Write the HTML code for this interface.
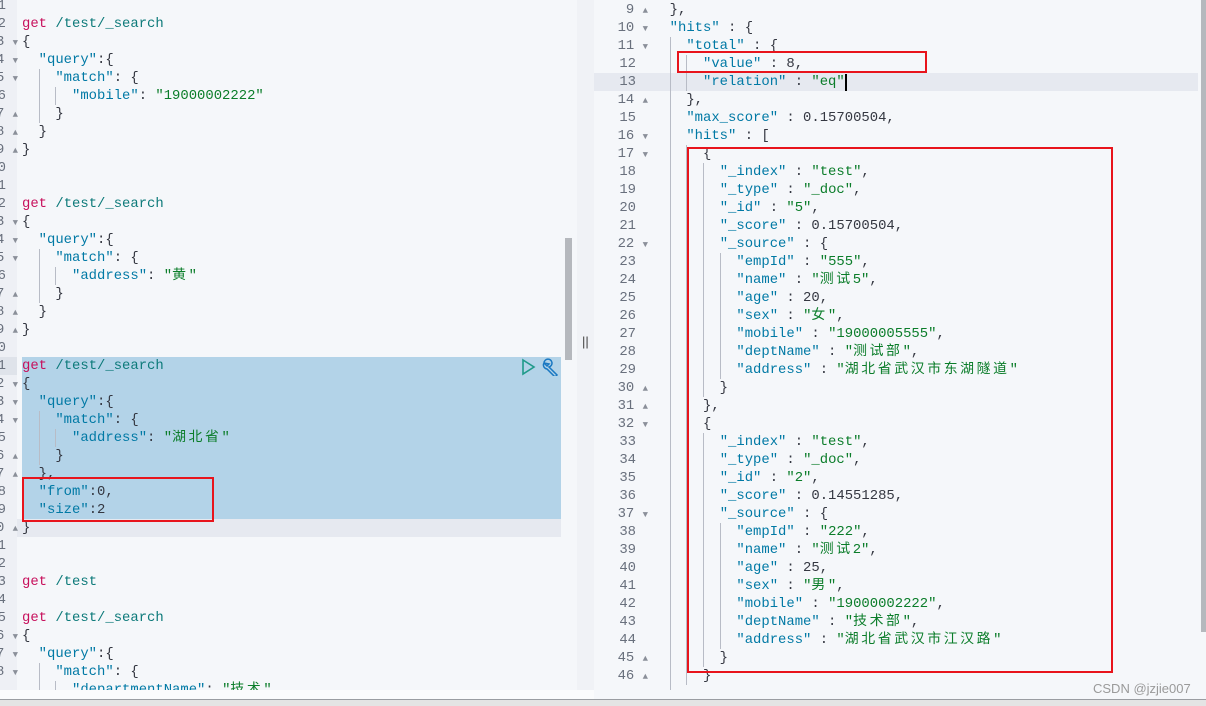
<!DOCTYPE html>
<html><head><meta charset="utf-8"><style>
body{margin:0;width:1206px;height:706px;overflow:hidden;background:#f5f7fa;position:relative;font-family:"Liberation Mono","Noto Sans CJK SC",monospace;font-size:13.9px;}
.a{position:absolute}
.L{position:absolute;height:18px;line-height:18px;white-space:pre;color:#343741}
.k{color:#0079a5}.s{color:#0b7d2a}.g{color:#c7105c}.p{color:#0d7a7a}
.c{letter-spacing:2.6px}
.gn{position:absolute;height:18px;line-height:18px;color:#69707d;white-space:pre;text-align:right}
.ig{position:absolute;width:1px;background:#b8bcc6}
.box{position:absolute;border:2px solid #e8141c;box-sizing:border-box}
.ar{font-size:9px;color:#8a8f99}
</style></head><body>
<!-- left panel -->
<div class="a" style="left:0;top:0;width:17px;height:690px;background:#eef0f5"></div>
<div class="a" style="left:17px;top:0;width:560px;height:690px;background:#f5f7fa"></div>
<div class="a" style="left:0;top:690px;width:594px;height:10px;background:#fafbfc"></div>
<div class="a" style="left:0;top:357px;width:17px;height:18px;background:#dfe3ea"></div>
<div class="a" style="left:22px;top:357px;width:539px;height:162px;background:#b3d3e8"></div>
<div class="a" style="left:17px;top:519px;width:544px;height:18px;background:#e6e9f0"></div>
<div class="a" style="left:565px;top:238px;width:7px;height:122px;background:#b5b8bd"></div>
<!-- left gutter -->
<div class="gn" style="left:-4px;top:-3px;width:10px">1</div>
<div class="gn" style="left:-4px;top:15px;width:10px">2</div>
<div class="gn" style="left:-4px;top:33px;width:22px">3 <span class="ar">▼</span></div>
<div class="gn" style="left:-4px;top:51px;width:22px">4 <span class="ar">▼</span></div>
<div class="gn" style="left:-4px;top:69px;width:22px">5 <span class="ar">▼</span></div>
<div class="gn" style="left:-4px;top:87px;width:10px">6</div>
<div class="gn" style="left:-4px;top:105px;width:22px">7 <span class="ar">▲</span></div>
<div class="gn" style="left:-4px;top:123px;width:22px">8 <span class="ar">▲</span></div>
<div class="gn" style="left:-4px;top:141px;width:22px">9 <span class="ar">▲</span></div>
<div class="gn" style="left:-4px;top:159px;width:10px">0</div>
<div class="gn" style="left:-4px;top:177px;width:10px">1</div>
<div class="gn" style="left:-4px;top:195px;width:10px">2</div>
<div class="gn" style="left:-4px;top:213px;width:22px">3 <span class="ar">▼</span></div>
<div class="gn" style="left:-4px;top:231px;width:22px">4 <span class="ar">▼</span></div>
<div class="gn" style="left:-4px;top:249px;width:22px">5 <span class="ar">▼</span></div>
<div class="gn" style="left:-4px;top:267px;width:10px">6</div>
<div class="gn" style="left:-4px;top:285px;width:22px">7 <span class="ar">▲</span></div>
<div class="gn" style="left:-4px;top:303px;width:22px">8 <span class="ar">▲</span></div>
<div class="gn" style="left:-4px;top:321px;width:22px">9 <span class="ar">▲</span></div>
<div class="gn" style="left:-4px;top:339px;width:10px">0</div>
<div class="gn" style="left:-4px;top:357px;width:10px">1</div>
<div class="gn" style="left:-4px;top:375px;width:22px">2 <span class="ar">▼</span></div>
<div class="gn" style="left:-4px;top:393px;width:22px">3 <span class="ar">▼</span></div>
<div class="gn" style="left:-4px;top:411px;width:22px">4 <span class="ar">▼</span></div>
<div class="gn" style="left:-4px;top:429px;width:10px">5</div>
<div class="gn" style="left:-4px;top:447px;width:22px">6 <span class="ar">▲</span></div>
<div class="gn" style="left:-4px;top:465px;width:22px">7 <span class="ar">▲</span></div>
<div class="gn" style="left:-4px;top:483px;width:10px">8</div>
<div class="gn" style="left:-4px;top:501px;width:10px">9</div>
<div class="gn" style="left:-4px;top:519px;width:22px">0 <span class="ar">▲</span></div>
<div class="gn" style="left:-4px;top:537px;width:10px">1</div>
<div class="gn" style="left:-4px;top:555px;width:10px">2</div>
<div class="gn" style="left:-4px;top:573px;width:10px">3</div>
<div class="gn" style="left:-4px;top:591px;width:10px">4</div>
<div class="gn" style="left:-4px;top:609px;width:10px">5</div>
<div class="gn" style="left:-4px;top:627px;width:22px">6 <span class="ar">▼</span></div>
<div class="gn" style="left:-4px;top:645px;width:22px">7 <span class="ar">▼</span></div>
<div class="gn" style="left:-4px;top:663px;width:22px">8 <span class="ar">▼</span></div>
<!-- left indent guides -->
<div class="ig" style="left:39px;top:69px;height:54px"></div>
<div class="ig" style="left:55px;top:87px;height:18px"></div>
<div class="ig" style="left:39px;top:249px;height:54px"></div>
<div class="ig" style="left:55px;top:267px;height:18px"></div>
<div class="ig" style="left:39px;top:411px;height:54px"></div>
<div class="ig" style="left:55px;top:429px;height:18px"></div>
<div class="ig" style="left:39px;top:663px;height:27px"></div>
<div class="ig" style="left:55px;top:681px;height:9px"></div>
<!-- left code -->
<div class="L" style="left:22px;top:15px"><span class="g">get</span> <span class="p">/test/_search</span></div>
<div class="L" style="left:22px;top:33px">{</div>
<div class="L" style="left:22px;top:51px">  <span class="k">"query"</span>:{</div>
<div class="L" style="left:22px;top:69px">    <span class="k">"match"</span>: {</div>
<div class="L" style="left:22px;top:87px">      <span class="k">"mobile"</span>: <span class="s">"19000002222"</span></div>
<div class="L" style="left:22px;top:105px">    }</div>
<div class="L" style="left:22px;top:123px">  }</div>
<div class="L" style="left:22px;top:141px">}</div>
<div class="L" style="left:22px;top:195px"><span class="g">get</span> <span class="p">/test/_search</span></div>
<div class="L" style="left:22px;top:213px">{</div>
<div class="L" style="left:22px;top:231px">  <span class="k">"query"</span>:{</div>
<div class="L" style="left:22px;top:249px">    <span class="k">"match"</span>: {</div>
<div class="L" style="left:22px;top:267px">      <span class="k">"address"</span>: <span class="s">"<span class="c">黄</span>"</span></div>
<div class="L" style="left:22px;top:285px">    }</div>
<div class="L" style="left:22px;top:303px">  }</div>
<div class="L" style="left:22px;top:321px">}</div>
<div class="L" style="left:22px;top:357px"><span class="g">get</span> <span class="p">/test/_search</span></div>
<div class="L" style="left:22px;top:375px">{</div>
<div class="L" style="left:22px;top:393px">  <span class="k">"query"</span>:{</div>
<div class="L" style="left:22px;top:411px">    <span class="k">"match"</span>: {</div>
<div class="L" style="left:22px;top:429px">      <span class="k">"address"</span>: <span class="s">"<span class="c">湖北省</span>"</span></div>
<div class="L" style="left:22px;top:447px">    }</div>
<div class="L" style="left:22px;top:465px">  },</div>
<div class="L" style="left:22px;top:483px">  <span class="k">"from"</span>:0,</div>
<div class="L" style="left:22px;top:501px">  <span class="k">"size"</span>:2</div>
<div class="L" style="left:22px;top:519px">}</div>
<div class="L" style="left:22px;top:573px"><span class="g">get</span> <span class="p">/test</span></div>
<div class="L" style="left:22px;top:609px"><span class="g">get</span> <span class="p">/test/_search</span></div>
<div class="L" style="left:22px;top:627px">{</div>
<div class="L" style="left:22px;top:645px">  <span class="k">"query"</span>:{</div>
<div class="L" style="left:22px;top:663px">    <span class="k">"match"</span>: {</div>
<div class="L" style="left:22px;top:681px;height:9px;overflow:hidden">      <span class="k">"departmentName"</span>: <span class="s">"<span class="c">技术</span>"</span></div>
<!-- play/wrench icons -->
<svg class="a" style="left:520px;top:358px" width="42" height="18"><path d="M3 2 L14 9 L3 16 Z" fill="none" stroke="#1f9a8a" stroke-width="1.6"/><path d="M24 5 a4 4 0 1 1 5 4 l8 8 l-2 2 l-8 -8 a4 4 0 0 1 -3 -6 l3 3 l2 -2 z" fill="none" stroke="#1a78c2" stroke-width="1.5"/></svg>
<div class="box" style="left:22px;top:477px;width:192px;height:45px"></div>
<!-- divider -->
<div class="a" style="left:577px;top:0;width:17px;height:690px;background:#f0f2f6"></div>
<div class="a" style="left:582px;top:334px;font-family:'Liberation Sans',sans-serif;font-size:13px;color:#444">||</div>
<!-- right panel -->
<div class="a" style="left:594px;top:0;width:612px;height:700px;background:#f5f7fa"></div>
<div class="a" style="left:594px;top:73px;width:604px;height:18px;background:#e6e9f0"></div>
<div class="a" style="left:1201px;top:0;width:5px;height:632px;background:#b5b8bd"></div>
<div class="a" style="left:845px;top:74px;width:2px;height:17px;background:#000"></div>
<!-- right gutter -->
<div class="gn" style="left:594px;top:1px;width:54px">9 <span class="ar">▲</span></div>
<div class="gn" style="left:594px;top:19px;width:54px">10 <span class="ar">▼</span></div>
<div class="gn" style="left:594px;top:37px;width:54px">11 <span class="ar">▼</span></div>
<div class="gn" style="left:594px;top:55px;width:42px">12</div>
<div class="gn" style="left:594px;top:73px;width:42px">13</div>
<div class="gn" style="left:594px;top:91px;width:54px">14 <span class="ar">▲</span></div>
<div class="gn" style="left:594px;top:109px;width:42px">15</div>
<div class="gn" style="left:594px;top:127px;width:54px">16 <span class="ar">▼</span></div>
<div class="gn" style="left:594px;top:145px;width:54px">17 <span class="ar">▼</span></div>
<div class="gn" style="left:594px;top:163px;width:42px">18</div>
<div class="gn" style="left:594px;top:181px;width:42px">19</div>
<div class="gn" style="left:594px;top:199px;width:42px">20</div>
<div class="gn" style="left:594px;top:217px;width:42px">21</div>
<div class="gn" style="left:594px;top:235px;width:54px">22 <span class="ar">▼</span></div>
<div class="gn" style="left:594px;top:253px;width:42px">23</div>
<div class="gn" style="left:594px;top:271px;width:42px">24</div>
<div class="gn" style="left:594px;top:289px;width:42px">25</div>
<div class="gn" style="left:594px;top:307px;width:42px">26</div>
<div class="gn" style="left:594px;top:325px;width:42px">27</div>
<div class="gn" style="left:594px;top:343px;width:42px">28</div>
<div class="gn" style="left:594px;top:361px;width:42px">29</div>
<div class="gn" style="left:594px;top:379px;width:54px">30 <span class="ar">▲</span></div>
<div class="gn" style="left:594px;top:397px;width:54px">31 <span class="ar">▲</span></div>
<div class="gn" style="left:594px;top:415px;width:54px">32 <span class="ar">▼</span></div>
<div class="gn" style="left:594px;top:433px;width:42px">33</div>
<div class="gn" style="left:594px;top:451px;width:42px">34</div>
<div class="gn" style="left:594px;top:469px;width:42px">35</div>
<div class="gn" style="left:594px;top:487px;width:42px">36</div>
<div class="gn" style="left:594px;top:505px;width:54px">37 <span class="ar">▼</span></div>
<div class="gn" style="left:594px;top:523px;width:42px">38</div>
<div class="gn" style="left:594px;top:541px;width:42px">39</div>
<div class="gn" style="left:594px;top:559px;width:42px">40</div>
<div class="gn" style="left:594px;top:577px;width:42px">41</div>
<div class="gn" style="left:594px;top:595px;width:42px">42</div>
<div class="gn" style="left:594px;top:613px;width:42px">43</div>
<div class="gn" style="left:594px;top:631px;width:42px">44</div>
<div class="gn" style="left:594px;top:649px;width:54px">45 <span class="ar">▲</span></div>
<div class="gn" style="left:594px;top:667px;width:54px">46 <span class="ar">▲</span></div>
<!-- right indent guides -->
<div class="ig" style="left:670px;top:37px;height:653px"></div>
<div class="ig" style="left:686px;top:55px;height:36px"></div>
<div class="ig" style="left:686px;top:145px;height:540px"></div>
<div class="ig" style="left:703px;top:163px;height:234px"></div>
<div class="ig" style="left:703px;top:433px;height:234px"></div>
<div class="ig" style="left:720px;top:253px;height:126px"></div>
<div class="ig" style="left:720px;top:523px;height:126px"></div>
<!-- right code -->
<div class="L" style="left:653px;top:1px">  },</div>
<div class="L" style="left:653px;top:19px">  <span class="k">"hits"</span> : {</div>
<div class="L" style="left:653px;top:37px">    <span class="k">"total"</span> : {</div>
<div class="L" style="left:653px;top:55px">      <span class="k">"value"</span> : 8,</div>
<div class="L" style="left:653px;top:73px">      <span class="k">"relation"</span> : <span class="s">"eq"</span></div>
<div class="L" style="left:653px;top:91px">    },</div>
<div class="L" style="left:653px;top:109px">    <span class="k">"max_score"</span> : 0.15700504,</div>
<div class="L" style="left:653px;top:127px">    <span class="k">"hits"</span> : [</div>
<div class="L" style="left:653px;top:145px">      {</div>
<div class="L" style="left:653px;top:163px">        <span class="k">"_index"</span> : <span class="s">"test"</span>,</div>
<div class="L" style="left:653px;top:181px">        <span class="k">"_type"</span> : <span class="s">"_doc"</span>,</div>
<div class="L" style="left:653px;top:199px">        <span class="k">"_id"</span> : <span class="s">"5"</span>,</div>
<div class="L" style="left:653px;top:217px">        <span class="k">"_score"</span> : 0.15700504,</div>
<div class="L" style="left:653px;top:235px">        <span class="k">"_source"</span> : {</div>
<div class="L" style="left:653px;top:253px">          <span class="k">"empId"</span> : <span class="s">"555"</span>,</div>
<div class="L" style="left:653px;top:271px">          <span class="k">"name"</span> : <span class="s">"<span class="c">测试</span>5"</span>,</div>
<div class="L" style="left:653px;top:289px">          <span class="k">"age"</span> : 20,</div>
<div class="L" style="left:653px;top:307px">          <span class="k">"sex"</span> : <span class="s">"<span class="c">女</span>"</span>,</div>
<div class="L" style="left:653px;top:325px">          <span class="k">"mobile"</span> : <span class="s">"19000005555"</span>,</div>
<div class="L" style="left:653px;top:343px">          <span class="k">"deptName"</span> : <span class="s">"<span class="c">测试部</span>"</span>,</div>
<div class="L" style="left:653px;top:361px">          <span class="k">"address"</span> : <span class="s">"<span class="c">湖北省武汉市东湖隧道</span>"</span></div>
<div class="L" style="left:653px;top:379px">        }</div>
<div class="L" style="left:653px;top:397px">      },</div>
<div class="L" style="left:653px;top:415px">      {</div>
<div class="L" style="left:653px;top:433px">        <span class="k">"_index"</span> : <span class="s">"test"</span>,</div>
<div class="L" style="left:653px;top:451px">        <span class="k">"_type"</span> : <span class="s">"_doc"</span>,</div>
<div class="L" style="left:653px;top:469px">        <span class="k">"_id"</span> : <span class="s">"2"</span>,</div>
<div class="L" style="left:653px;top:487px">        <span class="k">"_score"</span> : 0.14551285,</div>
<div class="L" style="left:653px;top:505px">        <span class="k">"_source"</span> : {</div>
<div class="L" style="left:653px;top:523px">          <span class="k">"empId"</span> : <span class="s">"222"</span>,</div>
<div class="L" style="left:653px;top:541px">          <span class="k">"name"</span> : <span class="s">"<span class="c">测试</span>2"</span>,</div>
<div class="L" style="left:653px;top:559px">          <span class="k">"age"</span> : 25,</div>
<div class="L" style="left:653px;top:577px">          <span class="k">"sex"</span> : <span class="s">"<span class="c">男</span>"</span>,</div>
<div class="L" style="left:653px;top:595px">          <span class="k">"mobile"</span> : <span class="s">"19000002222"</span>,</div>
<div class="L" style="left:653px;top:613px">          <span class="k">"deptName"</span> : <span class="s">"<span class="c">技术部</span>"</span>,</div>
<div class="L" style="left:653px;top:631px">          <span class="k">"address"</span> : <span class="s">"<span class="c">湖北省武汉市江汉路</span>"</span></div>
<div class="L" style="left:653px;top:649px">        }</div>
<div class="L" style="left:653px;top:667px">      }</div>
<div class="box" style="left:677px;top:51px;width:250px;height:22px"></div>
<div class="box" style="left:687px;top:147px;width:426px;height:526px"></div>
<div class="a" style="left:1093px;top:681px;font-family:'Liberation Sans',sans-serif;font-size:13px;color:#9a9a9a">CSDN @jzjie007</div>
<!-- bottom bar -->
<div class="a" style="left:0;top:699px;width:1206px;height:1px;background:#9a9da2"></div>
<div class="a" style="left:0;top:700px;width:1206px;height:6px;background:#e4e4e4"></div>
</body></html>
